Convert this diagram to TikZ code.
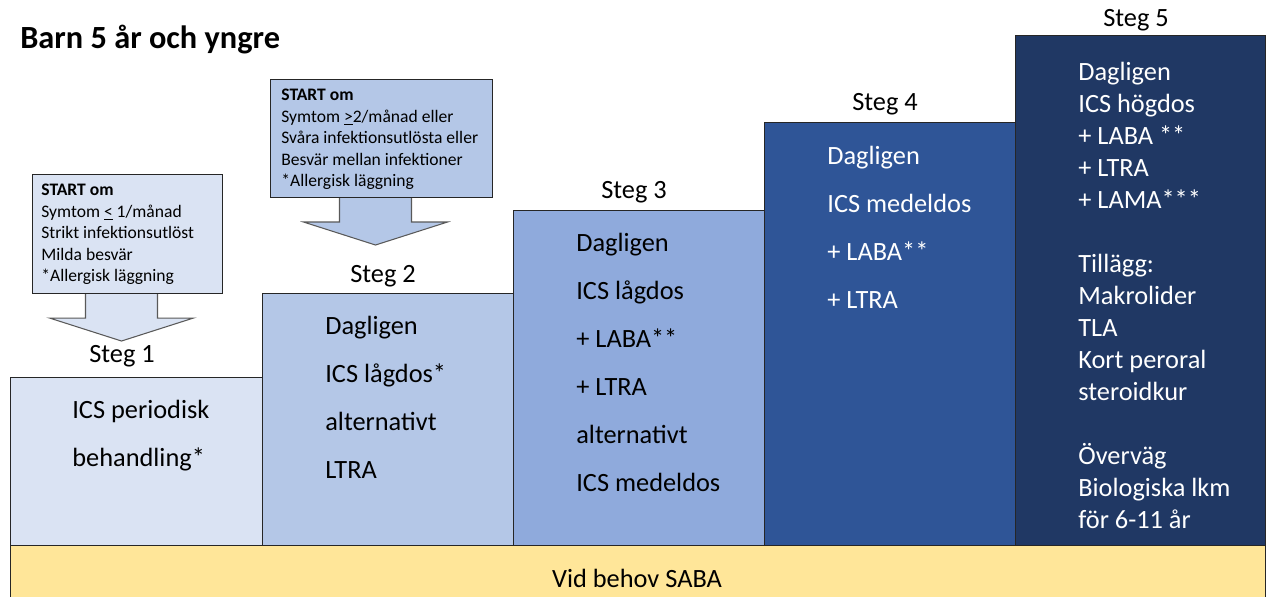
\documentclass[tikz,border=0pt]{standalone}
\usepackage{fontspec}
\setmainfont{Carlito}
\usetikzlibrary{positioning,calc}

\definecolor{stegone}{HTML}{DAE3F3}
\definecolor{stegtwo}{HTML}{B4C7E7}
\definecolor{stegthree}{HTML}{8FAADC}
\definecolor{stegfour}{HTML}{2F5597}
\definecolor{stegfive}{HTML}{203864}
\definecolor{sabayellow}{HTML}{FFE699}

\begin{document}
\begin{tikzpicture}[x=0.02cm,y=-0.02cm,
                    stepbox/.style={draw=black!85,line width=0.6pt,anchor=north west,inner sep=0pt},
                    steglabel/.style={font=\fontsize{15}{18}\selectfont,inner sep=0pt},
                    steptext/.style={anchor=north west,align=left,inner sep=0pt,font=\fontsize{15}{27.3}\selectfont},
                    tighttext/.style={steptext,font=\fontsize{15}{18.2}\selectfont,text=white},
                    starttext/.style={anchor=north west,align=left,inner sep=0pt,font=\fontsize{10}{12.2}\selectfont},
                    blockarrow/.style={draw=black!65,line width=0.6pt}
                   ]
   \useasboundingbox (0,0) rectangle (1268,597);
   \clip (0,0) rectangle (1268,597);
   % title
   \node[anchor=west,inner sep=0pt,font=\bfseries\fontsize{18.4}{22}\selectfont] (title) at (20,40) {Barn 5 år och yngre};
   % the five steps
   \node[stepbox,fill=stegone,minimum width=5.04cm,minimum height=3.36cm] (step1) at (10,377) {};
   \node[stepbox,fill=stegtwo,minimum width=5.02cm,minimum height=5.04cm] (step2) at (262,293) {};
   \node[stepbox,fill=stegthree,minimum width=5.02cm,minimum height=6.70cm] (step3) at (513,210) {};
   \node[stepbox,fill=stegfour,minimum width=5.02cm,minimum height=8.46cm] (step4) at (764,122) {};
   \node[stepbox,fill=stegfive,minimum width=5.00cm,minimum height=10.20cm] (step5) at (1015,35) {};
   \node[stepbox,fill=sabayellow,minimum width=25.10cm,minimum height=1.20cm] (saba) at (10,545) {};
   \node[steglabel] (sabatext) at (637,578) {Vid behov SABA};
   % labels above the steps
   \node[steglabel] (steg1) at (122,356) {Steg 1};
   \node[steglabel] (steg2) at (383,276) {Steg 2};
   \node[steglabel] (steg3) at (634,192) {Steg 3};
   \node[steglabel] (steg4) at (885,104) {Steg 4};
   \node[steglabel] (steg5) at (1136,20) {Steg 5};
   % treatment texts
   \node[steptext] (txt1) at (72,400) {ICS periodisk\\behandling*};
   \node[steptext] (txt2) at (325,316) {Dagligen\\ICS lågdos*\\alternativt\\LTRA};
   \node[steptext] (txt3) at (576,233) {Dagligen\\ICS lågdos\\+ LABA**\\+ LTRA\\alternativt\\ICS medeldos};
   \node[steptext,text=white] (txt4) at (827,146) {Dagligen\\ICS medeldos\\+ LABA**\\+ LTRA};
   \node[tighttext] (txt5) at (1078,62) {Dagligen\\ICS högdos\\+ LABA **\\+ LTRA\\+ LAMA***\\[18.2pt]%
                                         Tillägg:\\Makrolider\\TLA\\Kort peroral\\steroidkur\\[18.2pt]%
                                         Överväg\\Biologiska lkm\\för 6-11 år};
   % start criteria with arrows
   \node[stepbox,fill=stegone,minimum width=3.80cm,minimum height=2.38cm] (start1) at (32,174) {};
   \draw[blockarrow,fill=stegone] ($(start1.south)+(-42,0)$) -- ++(0,24) -- ++(-36,0) -- ++(72,23)
                                  -- ++(72,-23) -- ++(-36,0) -- ++(0,-24);
   \node[starttext] (why1) at (41,184) {\textbf{START om}\\Symtom \underline{<} 1/månad\\Strikt infektionsutlöst\\Milda besvär\\*Allergisk läggning};
   \node[stepbox,fill=stegtwo,minimum width=4.44cm,minimum height=2.36cm] (start2) at (270,79) {};
   \draw[blockarrow,fill=stegtwo] ($(start2.south)+(-42,0)$) -- ++(0,24) -- ++(-36,0) -- ++(72,23)
                                  -- ++(72,-23) -- ++(-36,0) -- ++(0,-24);
   \node[starttext] (why2) at (281,89) {\textbf{START om}\\Symtom \underline{>}2/månad eller\\Svåra infektionsutlösta eller\\Besvär mellan infektioner\\*Allergisk läggning};
\end{tikzpicture}
\end{document}
